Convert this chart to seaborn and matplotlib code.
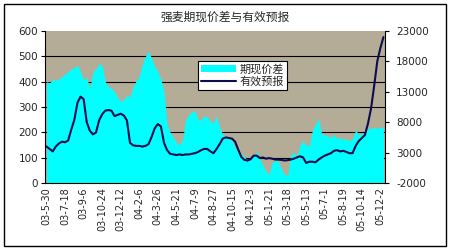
import numpy as np
import pandas as pd
import matplotlib
matplotlib.use("Agg")
import matplotlib.pyplot as plt
import seaborn as sns
from matplotlib.patches import Patch, Rectangle
from matplotlib.lines import Line2D

title = "强麦期现价差与有效预报"
series_names = ["期现价差", "有效预报"]

tick_labels = ["03-5-30", "03-7-18", "03-9-6", "03-10-24", "03-12-12", "04-2-6",
               "04-3-26", "04-5-21", "04-7-9", "04-8-27", "04-10-15", "04-12-3",
               "05-1-21", "05-3-18", "05-5-13", "05-7-1", "05-8-19", "05-10-14",
               "05-12-2"]

# 期现价差 (left axis)
spread = [400, 395, 410, 405, 410, 420, 430, 440, 450, 455,
          465, 440, 405, 420, 370, 440, 450, 470, 465, 400,
          380, 375, 360, 340, 320, 330, 345, 340, 380, 405,
          420, 470, 500, 520, 490, 460, 440, 410, 360, 230,
          200, 180, 160, 150, 170, 250, 270, 280, 285, 250,
          250, 265, 260, 245, 235, 265, 220, 190, 185, 180,
          165, 140, 120, 115, 105, 90, 100, 105, 125, 95,
          70, 45, 35, 80, 90, 85, 55, 35, 30, 110,
          120, 105, 150, 165, 150, 145, 210, 230, 255, 195,
          190, 185, 180, 190, 175, 180, 170, 175, 165, 175,
          210, 190, 195, 200, 215, 215, 220, 215, 220, 218]

# 有效预报 (right axis)
forecast = [4000, 3600, 3200, 4000, 4500, 4800, 4700, 5000, 6800, 8400,
            11200, 12200, 11800, 8000, 6600, 6000, 6300, 8300, 9300, 9900,
            10000, 9900, 9000, 9200, 9400, 9100, 8300, 4600, 4200, 4100,
            4100, 4000, 4100, 4400, 5600, 7000, 7700, 7300, 4600, 3400,
            2800, 2700, 2600, 2700, 2600, 2700, 2700, 2800, 2900, 3100,
            3400, 3600, 3600, 3200, 2900, 3600, 4400, 5300, 5500, 5400,
            5300, 4800, 3500, 2300, 1800, 1700, 1900, 2500, 2500, 2100,
            2200, 2000, 2100, 2000, 1850, 1850, 1800, 1700, 1750, 1850,
            2000, 2200, 2400, 2200, 1300, 1500, 1500, 1400, 1850, 2200,
            2500, 2700, 2900, 3300, 3400, 3200, 3300, 3100, 2900, 2900,
            4100, 4900, 5400, 5900, 7800, 10300, 14000, 18000, 20200, 22000]

left_ticks = [0, 100, 200, 300, 400, 500, 600]
right_ticks = [-2000, 3000, 8000, 13000, 18000, 23000]

sns.set_theme(style="white")
plt.rcParams["font.family"] = ["DejaVu Sans", "Noto Sans CJK SC"]

df = pd.DataFrame({"idx": np.arange(len(spread)), "spread": spread, "forecast": forecast})

fig = plt.figure(figsize=(4.5, 2.5), dpi=100)
fig.patch.set_facecolor("white")
ax = fig.add_axes([45 / 450, 1 - 183 / 250, 340 / 450, 152 / 250])
ax.set_facecolor("#B5AC98")

for v in left_ticks[1:-1]:
    ax.axhline(v, color="black", lw=0.8, zorder=1)
ax.fill_between(df["idx"], 0, df["spread"], color="#00FFFF", lw=0, zorder=2)

ax.set_xlim(-0.5, len(spread) - 0.5)
ax.set_ylim(0, 600)
ax.set_yticks(left_ticks)
ax.set_yticklabels([str(t) for t in left_ticks], fontsize=7.5)
ax.set_xticks(np.arange(0, len(spread), 6)[:len(tick_labels)])
ax.set_xticklabels(tick_labels, rotation=90, fontsize=7, va="top", ha="center")
ax.set_xticks(df["idx"], minor=True)
ax.tick_params(axis="x", which="major", direction="in", length=3, width=0.8, pad=3, color="black")
ax.tick_params(axis="x", which="minor", direction="in", length=2, width=0.6, color="#202020")
ax.tick_params(axis="y", which="major", direction="out", length=3, width=0.8, pad=2, color="black", left=True)
for s in ["top", "right"]:
    ax.spines[s].set_visible(False)
for s in ["left", "bottom"]:
    ax.spines[s].set_color("black")
    ax.spines[s].set_linewidth(0.8)

ax2 = ax.twinx()
sns.lineplot(data=df, x="idx", y="forecast", ax=ax2, color="#0C0C4E", lw=1.5, zorder=5)
ax2.set_ylim(-2000, 23000)
ax2.set_yticks(right_ticks)
ax2.set_yticklabels([str(t) for t in right_ticks], fontsize=7.5)
ax2.set_ylabel("")
ax2.set_xlabel("")
ax.set_xlabel("")
ax.set_ylabel("")
ax2.tick_params(axis="y", direction="out", length=3, width=0.8, pad=5, color="black", right=True)
for s in ["top", "left", "bottom"]:
    ax2.spines[s].set_visible(False)
ax2.spines["right"].set_color("black")
ax2.spines["right"].set_linewidth(0.8)

handles = [Patch(facecolor="#00FFFF", edgecolor="none"),
           Line2D([0], [0], color="#0C0C4E", lw=1.5)]
leg = ax2.legend(handles, series_names, loc="upper left",
                 bbox_to_anchor=(198 / 450, 1 - 61 / 250), bbox_transform=fig.transFigure,
                 frameon=True, fancybox=False, edgecolor="black", facecolor="white",
                 framealpha=1, fontsize=8, handlelength=3.2, handleheight=0.5,
                 borderpad=0.25, labelspacing=0.15, handletextpad=0.3, borderaxespad=0)
leg.get_frame().set_linewidth(0.8)

fig.text(0.5, 1 - 17 / 250, title, ha="center", va="center", fontsize=8.5)
fig.patches.append(Rectangle((4 / 450, 4 / 250), 442 / 450, 242 / 250, transform=fig.transFigure,
                             fill=False, edgecolor="black", lw=1))

fig.savefig("out.png", dpi=100, facecolor="white")
